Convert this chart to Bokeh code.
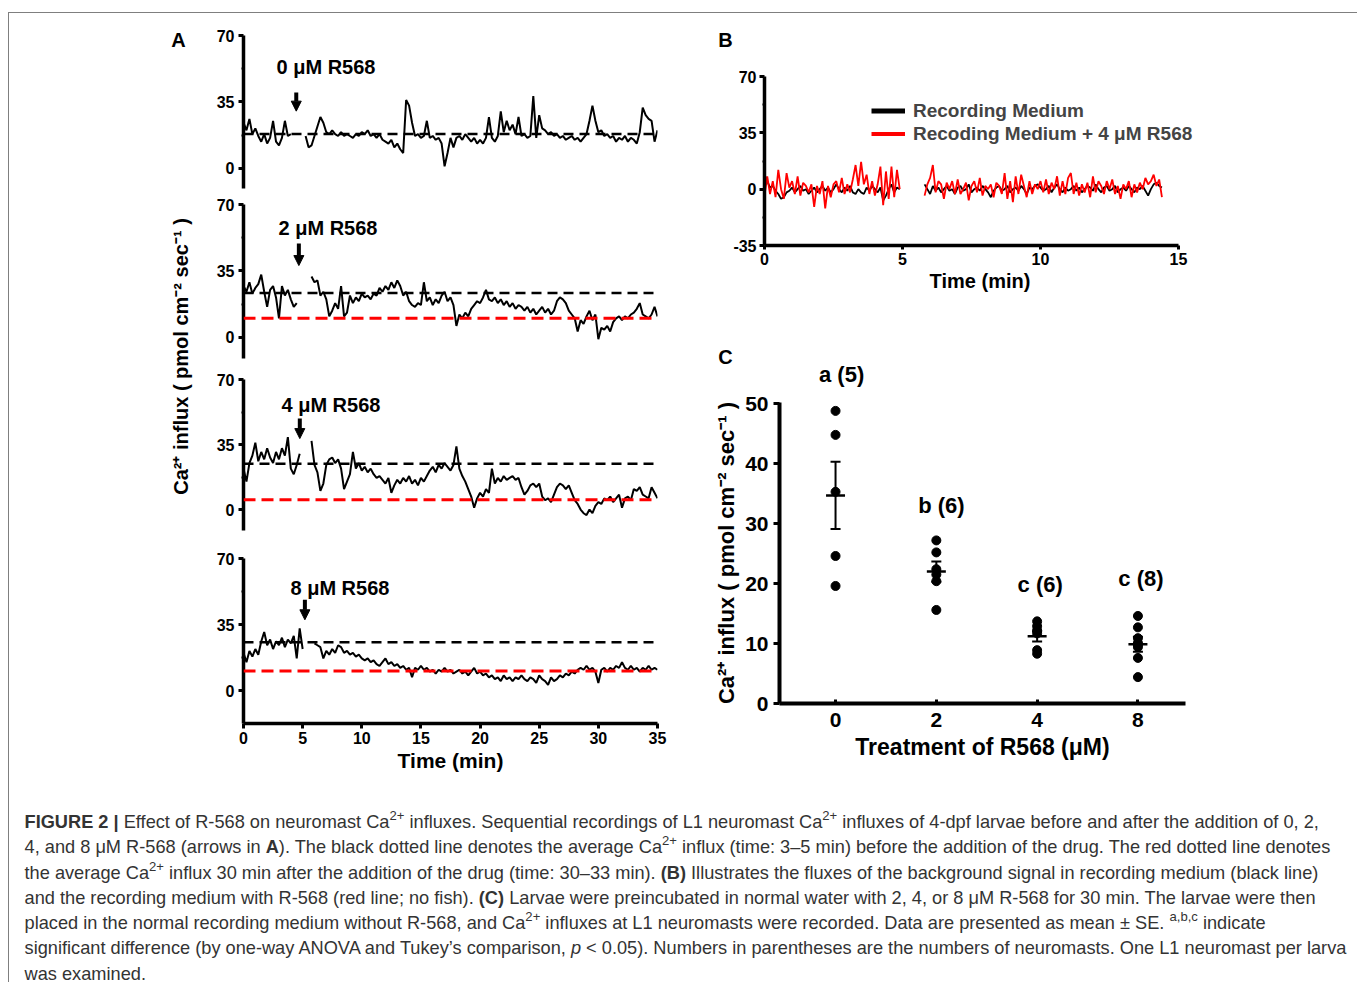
import math
from bokeh.plotting import figure
from bokeh.layouts import row, column
from bokeh.models import (Range1d, FixedTicker, Label, Span, Arrow, NormalHead,
                          Whisker, TeeHead, Legend, LegendItem, Div, ColumnDataSource)
from bokeh.embed import file_html
from bokeh.resources import INLINE

NaN = float("nan")
FONT = "Liberation Sans"

# ---------------- Panel A data (Ca2+ influx, step 0.25 min) ----------------
STEP_A = 0.25
trace_0uM = [
    24, 20, 26, 18, 21, 17, 14, 18, 13, 16,
    25, 14, 12, 16, 25, 17, 18, NaN, NaN, NaN,
    NaN, 17, 11, 12, 17, 22, 27, 24, 19, 18,
    20, 18, 17, 19, 17, 18, 17, 16, 18, 17,
    19, 18, 20, 17, 18, 16, 18, 15, 14, 13,
    15, 11, 13, 10, 8, 36, 33, 24, 17, 18,
    16, 17, 25, 16, 17, 15, 16, 13, 1, 8,
    16, 11, 16, 17, 15, 18, 16, 14, 16, 13,
    15, 13, 16, 27, 16, 14, 17, 30, 19, 25,
    20, 23, 18, 27, 17, 18, 16, 17, 38, 16,
    28, 21, 20, 18, 19, 17, 18, 16, 17, 15,
    16, 17, 15, 16, 14, 16, 18, 25, 33, 25,
    19, 20, 17, 18, 16, 17, 14, 16, 15, 17,
    14, 16, 15, 13, 19, 32, 28, 26, 25, 14,
    20]
trace_2uM = [
    27, 24, 29, 23, 26, 28, 33, 24, 16, 25,
    27, 21, 10, 27, 22, 25, 20, 16, 18, NaN,
    NaN, NaN, NaN, 32, 29, 30, 22, 24, 20, 11,
    14, 18, 15, 27, 11, 13, 22, 18, 21, 19,
    23, 21, 22, 20, 23, 22, 26, 24, 27, 25,
    29, 26, 30, 27, 22, 24, 19, 17, 16, 18,
    17, 29, 19, 21, 17, 20, 18, 22, 24, 19,
    21, 17, 6, 12, 10, 13, 11, 15, 17, 19,
    18, 21, 25, 20, 19, 21, 18, 20, 17, 19,
    16, 18, 15, 17, 16, 14, 16, 13, 15, 12,
    14, 16, 13, 15, 12, 14, 19, 21, 20, 18,
    14, 12, 10, 3, 9, 7, 11, 14, 9, 12,
    -1, 5, 4, 6, 3, 8, 10, 11, 9, 11,
    10, 12, 13, 15, 18, 12, 11, 10, 12, 16,
    11]
trace_4uM = [
    22, 15, 25, 29, 36, 26, 31, 27, 33, 28,
    25, 31, 27, 33, 29, 39, 22, 19, 24, 30,
    NaN, NaN, NaN, 37, 24, 20, 10, 14, 24, 27,
    28, 25, 27, 22, 11, 15, 19, 31, 22, 25,
    21, 23, 20, 22, 19, 17, 18, 16, 14, 17,
    9, 13, 16, 14, 17, 15, 18, 14, 16, 13,
    17, 15, 18, 21, 23, 20, 24, 22, 25, 23,
    21, 24, 34, 22, 18, 15, 11, 7, 1, 6,
    9, 7, 11, 9, 22, 14, 17, 15, 18, 16,
    17, 18, 16, 17, 12, 8, 10, 13, 14, 12,
    14, 7, 5, 6, 4, 8, 12, 14, 13, 11,
    13, 9, 5, 3, 0, -2, -3, 0, -2, 2,
    4, 3, 6, 5, 7, 4, 6, 8, 1, 6,
    7, 5, 11, 10, 12, 8, 7, 6, 12, 9,
    6]
trace_8uM = [
    20, 15, 21, 18, 22, 19, 26, 31, 24, 27,
    22, 26, 24, 28, 23, 27, 25, 29, 17, 33,
    22, NaN, NaN, NaN, 25, 24, 23, 17, 21, 19,
    22, 20, 24, 23, 20, 21, 19, 20, 18, 19,
    17, 16, 17, 15, 16, 14, 13, 15, 17, 14,
    15, 13, 14, 12, 13, 11, 12, 7, 12, 11,
    13, 11, 12, 10, 11, 9, 11, 10, 12, 10,
    11, 9, 10, 11, 9, 10, 8, 10, 12, 9,
    10, 8, 9, 7, 8, 6, 7, 5, 8, 6,
    7, 5, 7, 6, 8, 6, 5, 7, 6, 4,
    8, 6, 5, 3, 7, 5, 6, 8, 7, 9,
    8, 10, 9, 11, 12, 11, 13, 11, 12, 10,
    4, 11, 12, 10, 12, 11, 13, 12, 15, 12,
    11, 13, 11, 12, 10, 12, 11, 13, 11, 12,
    11]
a_traces = [trace_0uM, trace_2uM, trace_4uM, trace_8uM]
a_titles = ["0 μM R568", "2 μM R568", "4 μM R568", "8 μM R568"]
avg_before = [18, 23.3, 24.6, 25.6]      # black dashed
avg_after = [None, 10, 5.2, 10.4]        # red dashed
drug_time = [4.46, 4.68, 4.76, 5.19]     # arrow position (min)
a_yticks = [0, 35, 70]
a_xticks = [0, 5, 10, 15, 20, 25, 30, 35]

# ---------------- Panel B data (step 0.1 min) ----------------
STEP_B = 0.1
medium = [
    9, 5, 1, 2, -1, -3, -6, -5, -2, -1,
    1, -2, 0, 2, -1, 0, -3, -1, 1, -2,
    0, 2, -1, 1, -2, 0, 3, 0, -2, 1,
    -1, 2, -2, -3, 0, -2, -3, 1, -1, 2,
    0, -2, 1, -7, -4, 0, 3, -2, 1, 0,
    NaN, NaN, NaN, NaN, NaN, NaN, NaN, NaN, 3, 0,
    -3, 2, -1, 1, -2, 0, 2, -1, 0, -3,
    1, 2, -1, 0, 3, -2, 0, 1, -1, 2,
    0, -2, -5, -1, 1, 2, -1, 0, 2, -2,
    0, 1, -1, 2, 0, -3, 1, 0, 2, 3,
    1, -1, 0, 2, -2, 1, 3, 0, -2, 1,
    -1, 0, 2, -1, 1, -2, 0, 2, 1, -1,
    3, 0, -2, 1, 2, -1, 0, 2, -2, 0,
    1, -1, 2, 0, -2, 1, 0, 2, -1, -4,
    0, 3, 4, 2, 1]
medium_r568 = [
    -4, 8, -3, 5, -5, 12, 0, -6, 10, 1,
    5, -3, 8, -4, 4, 2, -2, 3, -11, 2,
    -3, 5, -12, 2, -5, 3, 5, -2, 7, -3,
    3, -2, 6, 15, 2, 17, 3, 9, -3, 5,
    -4, 3, 14, -10, 11, -6, 14, -5, 12, 0,
    NaN, NaN, NaN, NaN, NaN, NaN, NaN, NaN, -4, 3,
    7, 15, -2, 5, 3, -6, 4, 0, 5, -3,
    6, -3, 0, 4, -7, 2, 5, -2, 7, -4,
    2, 0, 3, -5, 4, 2, -3, 10, -6, 5,
    -8, 8, -3, 9, 2, -5, 5, -3, 3, 0,
    5, -2, 6, -3, 4, 0, 8, -4, 5, -3,
    7, 10, -3, 4, -4, 3, -2, 4, -5, 8,
    -2, 5, 2, -3, 5, 0, 6, -3, 2, -6,
    3, 0, 5, -5, 3, -2, 4, 0, 7, 3,
    5, 9, 2, 6, -5]
b_yticks = [-35, 0, 35, 70]
b_xticks = [0, 5, 10, 15]
b_series = ["Recording Medium", "Recoding Medium + 4 μM R568"]

# ---------------- Panel C data ----------------
treatment = ["0", "2", "4", "8"]
points_0 = [48.8, 44.8, 35.3, 24.6, 19.6]
points_2 = [27.2, 25.2, 22.4, 21.5, 20.4, 15.6]
points_4 = [13.7, 12.9, 12.2, 11.7, 8.9, 8.3]
points_8 = [14.6, 12.7, 10.9, 10.1, 9.8, 9.4, 7.6, 4.4]
mean_c = [34.7, 22.0, 11.2, 9.9]
se_c = [5.6, 1.7, 0.85, 1.25]
group_labels = ["a (5)", "b (6)", "c (6)", "c (8)"]
c_yticks = [0, 10, 20, 30, 40, 50]

YLABEL = "Ca²⁺ influx ( pmol cm⁻² sec⁻¹ )"


def base_fig(**kw):
    p = figure(output_backend="svg", toolbar_location=None, **kw)
    p.outline_line_color = None
    p.grid.visible = False
    p.background_fill_color = "white"
    p.border_fill_color = "white"
    p.frame_align = False
    return p


def strip(w, h):
    s = base_fig(width=w, height=h, x_range=Range1d(0, w), y_range=Range1d(0, h),
                 min_border_left=0, min_border_right=0, min_border_top=0, min_border_bottom=0)
    s.axis.visible = False
    return s


def txt(x, y, text, size, align="center", angle=0.0):
    return Label(x=x, y=y, text=text, angle=angle, text_font=FONT, text_font_style="bold",
                 text_font_size=size, text_align=align, text_baseline="middle",
                 text_color="black")


def style_axis(ax, lw, tick_out, tick_in, label_size):
    ax.axis_line_width = lw
    ax.axis_line_color = "black"
    ax.major_tick_line_width = 3
    ax.major_tick_line_color = "black"
    ax.major_tick_out = tick_out
    ax.major_tick_in = tick_in
    ax.minor_tick_line_width = 2
    ax.minor_tick_out = 2
    ax.minor_tick_in = 0
    ax.major_label_text_font = FONT
    ax.major_label_text_font_style = "bold"
    ax.major_label_text_font_size = label_size
    ax.major_label_text_color = "black"
    ax.axis_label_text_font = FONT
    ax.axis_label_text_font_style = "bold"
    ax.axis_label_text_color = "black"


# ---------------- Panel A figures ----------------
# (border top, frame height, y min, border bottom, label y, show x axis)
a_layout = [
    (22, 153, -10.7, 5, 53.6, False),
    (11, 154, -11.2, 5, 57.4, False),
    (16, 151, -11.3, 5, 56.5, False),
    (23, 165, -17.5, 55, 54.6, True),
]
a_label_x = [2.79, 2.96, 3.21, 3.97]
a_arrow_y = [(39.9, 30.1), (49.4, 37.8), (49.0, 38.2), (48.1, 37.5)]

a_figs = []
for i, vals in enumerate(a_traces):
    top, fh, ymin, bottom, ly, showx = a_layout[i]
    p = base_fig(frame_width=414, frame_height=fh,
                 x_range=Range1d(0, 35), y_range=Range1d(ymin, 70),
                 min_border_left=43, min_border_right=12,
                 min_border_top=top, min_border_bottom=bottom)
    t = [k * STEP_A for k in range(len(vals))]
    p.line(t, vals, line_color="black", line_width=2)
    p.add_layout(Span(location=avg_before[i], dimension="width", line_color="black",
                      line_width=2.5, line_dash="10 6"))
    if avg_after[i] is not None:
        p.add_layout(Span(location=avg_after[i], dimension="width", line_color="#ff0000",
                          line_width=3, line_dash="12 6"))
    ys, ye = a_arrow_y[i]
    p.add_layout(Arrow(end=NormalHead(size=10, fill_color="black", line_color="black"),
                       x_start=drug_time[i], y_start=ys, x_end=drug_time[i], y_end=ye,
                       line_width=4, line_color="black"))
    p.add_layout(txt(a_label_x[i], ly, a_titles[i], "20px", align="left"))
    p.yaxis.ticker = FixedTicker(ticks=a_yticks, minor_ticks=[17.5, 52.5])
    style_axis(p.yaxis[0], 3.5, 5, 0, "16px")
    p.yaxis.major_label_standoff = 4
    if showx:
        p.xaxis.ticker = FixedTicker(ticks=a_xticks, minor_ticks=[])
        style_axis(p.xaxis[0], 3.5, 5, 0, "16px")
        p.xaxis.major_label_standoff = 3
        p.xaxis.axis_label = "Time (min)"
        p.xaxis.axis_label_text_font_size = "21px"
        p.xaxis.axis_label_standoff = 2
    else:
        p.xaxis.visible = False
    a_figs.append(p)

# label strip for panel A (shared y label and panel letter)
labA = strip(191, 765)
labA.add_layout(txt(171, 422, YLABEL, "20px", angle=math.pi / 2))
labA.add_layout(txt(169, 739, "A", "20px"))

# ---------------- Panel B ----------------
RW = 539
stripB = strip(RW, 50)
stripB.add_layout(txt(56, 24, "B", "20px"))

B_PX_PER_MIN = 414 / 15.0
B_FW = 431
pB = base_fig(frame_width=B_FW, frame_height=169, x_range=Range1d(0, B_FW / B_PX_PER_MIN),
              y_range=Range1d(-35, 70), min_border_left=95, min_border_right=RW - 95 - B_FW,
              min_border_top=13, min_border_bottom=50)
tb = [k * STEP_B for k in range(len(medium))]
pB.line(tb, medium, line_color="black", line_width=1.8)
pB.line(tb, medium_r568, line_color="#ff0000", line_width=1.8)
leg_black = pB.line(x=[0, 0], y=[NaN, NaN], line_color="black", line_width=5)
leg_red = pB.line(x=[0, 0], y=[NaN, NaN], line_color="#ff0000", line_width=4)
legend = Legend(items=[LegendItem(label=b_series[0], renderers=[leg_black]),
                       LegendItem(label=b_series[1], renderers=[leg_red])],
                location=(107, 100), orientation="vertical", glyph_width=34, glyph_height=23,
                label_height=23, label_standoff=8, spacing=0, padding=0, margin=0,
                border_line_color=None, background_fill_alpha=0,
                label_text_font=FONT, label_text_font_style="bold",
                label_text_font_size="19px")
pB.add_layout(legend)
pB.yaxis.ticker = FixedTicker(ticks=b_yticks, minor_ticks=[-17.5, 17.5, 52.5])
pB.yaxis.major_label_overrides = {v: str(v) for v in b_yticks}
pB.xaxis.ticker = FixedTicker(ticks=b_xticks, minor_ticks=[])
pB.xaxis.bounds = (0, 15)
style_axis(pB.yaxis[0], 3.5, 5, 0, "16px")
style_axis(pB.xaxis[0], 3.5, 4, 0, "16px")
pB.yaxis.major_label_standoff = 3
pB.xaxis.major_label_standoff = 3
pB.xaxis.axis_label = "Time (min)"
pB.xaxis.axis_label_text_font_size = "20px"
pB.xaxis.axis_label_standoff = 2

# ---------------- Panel C ----------------
pos = [1, 2, 3, 4]
C_LEFT, C_FW, C_X0, C_X1 = 110, 406, 0.444, 4.472
C_TOP, C_FH, C_YMAX = 12, 301, 50.2
pC = base_fig(frame_width=C_FW, frame_height=C_FH, x_range=Range1d(C_X0, C_X1),
              y_range=Range1d(0, C_YMAX), min_border_left=C_LEFT,
              min_border_right=RW - C_LEFT - C_FW, min_border_top=C_TOP, min_border_bottom=76)
for k, pts in enumerate([points_0, points_2, points_4, points_8]):
    pC.scatter([pos[k]] * len(pts), pts, size=9, color="black")
pC.scatter(pos, mean_c, marker="dash", size=19, line_width=2.5, line_color="black")
wsrc = ColumnDataSource(dict(x=pos, upper=[m + s for m, s in zip(mean_c, se_c)],
                             lower=[m - s for m, s in zip(mean_c, se_c)]))
pC.add_layout(Whisker(base="x", upper="upper", lower="lower", source=wsrc,
                      line_width=2, line_color="black",
                      upper_head=TeeHead(size=10, line_width=2, line_color="black"),
                      lower_head=TeeHead(size=10, line_width=2, line_color="black")))
label_y = [54.9, 33.0, 19.8, 20.8]
label_x = [1.06, 2.05, 3.03, 4.03]
for k in range(1, 4):
    pC.add_layout(txt(label_x[k], label_y[k], group_labels[k], "22px"))
pC.yaxis.ticker = FixedTicker(ticks=c_yticks, minor_ticks=[])
pC.xaxis.ticker = FixedTicker(ticks=pos, minor_ticks=[])
pC.xaxis.major_label_overrides = {p_: t_ for p_, t_ in zip(pos, treatment)}
style_axis(pC.yaxis[0], 4, 6, 0, "21px")
style_axis(pC.xaxis[0], 4, 0, 4, "21px")
pC.yaxis.major_label_standoff = 5
pC.xaxis.major_label_standoff = 9
pC.yaxis.axis_label = YLABEL
pC.yaxis.axis_label_text_font_size = "22px"
pC.yaxis.axis_label_standoff = 3
pC.xaxis.axis_label = "Treatment of R568 (μM)"
pC.xaxis.axis_label_text_font_size = "23px"
pC.xaxis.axis_label_standoff = 4

# strip above panel C: letter and first group label (above the frame top)
SC_H = 95
stripC = strip(RW, SC_H)
px_per_unit = C_FW / (C_X1 - C_X0)
a5_x = C_LEFT + (label_x[0] - C_X0) * px_per_unit
a5_y = -C_TOP + (label_y[0] - C_YMAX) * (C_FH / C_YMAX)
stripC.add_layout(txt(a5_x, a5_y, group_labels[0], "22px"))
stripC.add_layout(txt(56, 34, "C", "20px"))

# ---------------- Caption ----------------
sup = '<sup style="font-size:0.72em;line-height:0;vertical-align:0.55em">'
ca = 'Ca' + sup + '2+</sup>'
lines = [
    '<b>FIGURE 2 |</b> Effect of R-568 on neuromast ' + ca + ' influxes. Sequential recordings of L1 neuromast ' + ca + ' influxes of 4-dpf larvae before and after the addition of 0, 2,',
    '4, and 8 μM R-568 (arrows in <b>A</b>). The black dotted line denotes the average ' + ca + ' influx (time: 3–5 min) before the addition of the drug. The red dotted line denotes',
    'the average ' + ca + ' influx 30 min after the addition of the drug (time: 30–33 min). <b>(B)</b> Illustrates the fluxes of the background signal in recording medium (black line)',
    'and the recording medium with R-568 (red line; no fish). <b>(C)</b> Larvae were preincubated in normal water with 2, 4, or 8 μM R-568 for 30 min. The larvae were then',
    'placed in the normal recording medium without R-568, and ' + ca + ' influxes at L1 neuromasts were recorded. Data are presented as mean ± SE. ' + sup + 'a,b,c</sup> indicate',
    'significant difference (by one-way ANOVA and Tukey’s comparison, <i>p</i> &lt; 0.05). Numbers in parentheses are the numbers of neuromasts. One L1 neuromast per larva',
    'was examined.',
]
html = ('<div style="padding:25px 0 0 11px;font-family:\'Liberation Sans\',sans-serif;'
        'font-size:19px;color:#333;transform:scaleX(0.958);transform-origin:0 0;">' +
        ''.join('<div style="white-space:nowrap;height:25.3px;line-height:25.3px">' + ln + '</div>'
                for ln in lines) + '</div>')
caption = Div(text=html, width=1347, height=220)

layout = column(
    row(labA, column(*a_figs), column(stripB, pB, stripC, pC)),
    caption,
    styles={"border": "1px solid #7f7f7f", "margin": "12px 0 0 8px"},
)

open("out.html", "w").write(file_html(layout, INLINE))
